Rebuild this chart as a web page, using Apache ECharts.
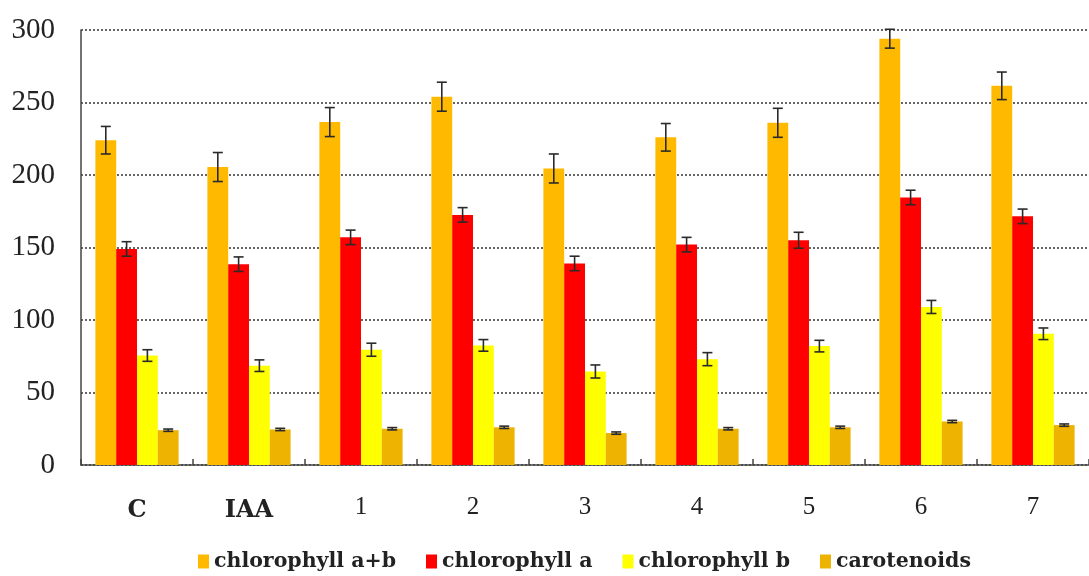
<!DOCTYPE html>
<html>
<head>
<meta charset="utf-8">
<script src="https://cdn.jsdelivr.net/npm/echarts@6/dist/echarts.min.js"></script>
<style>html,body{margin:0;padding:0;background:#fff}#c{width:1089px;height:576px}</style>
</head>
<body>
<div id="c"></div>
<script>
const categories = ['C','IAA','1','2','3','4','5','6','7'];
const seriesNames = ['chlorophyll a+b','chlorophyll a','chlorophyll b','carotenoids'];
const chlAB  = [224, 205.5, 236.5, 254, 204.5, 226, 236, 294, 261.5];
const chlA   = [149, 138.5, 157, 172.5, 139, 152, 155, 184.5, 171.5];
const chlB   = [75.5, 68.5, 79.5, 82.5, 64.5, 73, 82, 109, 90.5];
const carot  = [24, 24.5, 25, 26, 22, 25, 26, 30, 27.5];
const errAB  = [9.5, 10, 10, 10, 10, 9.5, 10, 6.5, 9.5];
const errA   = [5, 5, 5, 5, 5, 5, 5.5, 5, 5];
const errB   = [4, 4, 4.5, 4, 4.5, 4.5, 4, 4.5, 4];
const errC   = [0.8, 0.8, 0.8, 0.8, 0.8, 0.8, 0.8, 0.8, 0.8];
const yTicks = [0, 50, 100, 150, 200, 250, 300];

const values = [chlAB, chlA, chlB, carot];
const errors = [errAB, errA, errB, errC];
const colors = ['#FFBA00', '#FF0000', '#FFFF00', '#EDB300'];
const BW = 20.8;

const chart = echarts.init(document.getElementById('c'));
const series = [];
values.forEach((vals, i) => {
  series.push({
    name: seriesNames[i], type: 'bar', data: vals, barWidth: BW, barGap: '0%',
    itemStyle: { color: colors[i] }
  });
});
values.forEach((vals, i) => {
  series.push({
    type: 'custom', silent: true, z: 10,
    data: vals.map((v, k) => [k, v, errors[i][k]]),
    renderItem: function (params, api) {
      const k = api.value(0), v = api.value(1), e = api.value(2);
      const off = (i - 1.5) * BW;
      const top = api.coord([k, v + e]);
      const bot = api.coord([k, v - e]);
      const x = top[0] + off;
      const cap = 5;
      const st = { stroke: '#2a2a2a', lineWidth: 1.6 };
      return { type: 'group', children: [
        { type: 'line', shape: { x1: x, y1: top[1], x2: x, y2: bot[1] }, style: st },
        { type: 'line', shape: { x1: x - cap, y1: top[1], x2: x + cap, y2: top[1] }, style: st },
        { type: 'line', shape: { x1: x - cap, y1: bot[1], x2: x + cap, y2: bot[1] }, style: st }
      ]};
    }
  });
});

chart.setOption({
  animation: false,
  backgroundColor: '#fff',
  grid: { left: 81, right: -4, top: 30, bottom: 111, containLabel: false },
  legend: {
    data: seriesNames, bottom: -1, left: 193, itemWidth: 11, itemHeight: 14, itemGap: 30,
    icon: 'rect',
    textStyle: { fontFamily: 'DejaVu Serif', fontWeight: 'bold', fontSize: 20.5, color: '#222' }
  },
  xAxis: {
    type: 'category', data: categories,
    axisLine: { lineStyle: { color: '#444', width: 1.5 } },
    axisTick: { show: true, inside: true, length: 6, lineStyle: { color: '#444', width: 1.5 } },
    axisLabel: {
      margin: 30, fontFamily: 'Liberation Serif', fontSize: 25, color: '#222',
      formatter: function (v) { return (v === 'C' || v === 'IAA') ? '{b|' + v + '}' : v; },
      rich: { b: { fontFamily: 'DejaVu Serif', fontWeight: 'bold', fontSize: 24, color: '#222', padding: [4, 0, 0, 0] } }
    },
    splitLine: { show: false }
  },
  yAxis: {
    type: 'value', min: yTicks[0], max: yTicks[yTicks.length - 1], interval: 50,
    axisLine: { show: true, lineStyle: { color: '#444', width: 1.5 } },
    axisTick: { show: false },
    axisLabel: { margin: 26, fontFamily: 'Liberation Serif', fontSize: 29, color: '#222' },
    splitLine: { show: true, lineStyle: { color: '#666', width: 2, type: [2, 2] } }
  },
  series: series
});
</script>
</body>
</html>
